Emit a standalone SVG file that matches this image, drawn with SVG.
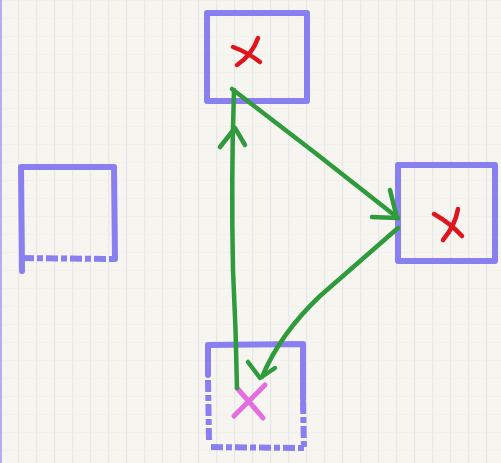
<svg xmlns="http://www.w3.org/2000/svg" width="501" height="463" viewBox="0 0 501 463">
  <defs>
    <pattern id="grid" width="18" height="18" patternUnits="userSpaceOnUse">
      <rect width="18" height="18" fill="#f6f5f0"/>
      <line x1="0.5" y1="0" x2="0.5" y2="18" stroke="#e8e8ea" stroke-width="1.5"/>
      <line x1="0" y1="0.5" x2="18" y2="0.5" stroke="#f0efec" stroke-width="0.8"/>
    </pattern>
  </defs>
  <style>
    .box { fill: none; stroke: #8a7ff0; stroke-width: 6; stroke-linecap: round; stroke-linejoin: round; }
    .dash { fill: none; stroke: #8a7ff0; stroke-width: 6; stroke-linecap: butt; stroke-dasharray: 12 3 6 3; }
    .xred { fill: none; stroke: #e0141c; stroke-width: 4.5; stroke-linecap: round; }
    .xpink { fill: none; stroke: #e46ee0; stroke-width: 5; stroke-linecap: round; }
    .edge { fill: none; stroke: #2f9b3c; stroke-width: 4.5; stroke-linecap: round; stroke-linejoin: round; }
  </style>

  <rect width="501" height="463" fill="url(#grid)"/>
  <line x1="1" y1="0" x2="1" y2="463" stroke="#b3adf2" stroke-width="2"/>

  <g id="node-top">
    <rect class="box" x="207" y="13" width="100" height="88"/>
    <path class="xred" d="M233,47 Q247,52 260,62"/>
    <path class="xred" d="M258,38 Q252,55 237,65"/>
  </g>

  <g id="node-right">
    <rect class="box" x="398" y="165" width="97" height="96"/>
    <path class="xred" d="M434,214 Q450,223 462,236"/>
    <path class="xred" d="M458,209 Q455,226 443,240"/>
  </g>

  <g id="node-left">
    <path class="box" d="M22,271 L21,167 L114,167 L115,259"/>
    <path class="dash" d="M22,258 L115,259"/>
  </g>

  <g id="node-bottom">
    <path class="box" d="M208,375 L208,345 L303,344 L303,400"/>
    <path class="dash" d="M208,380 L209,440 M303,402 L304,448 M211,447 L305,448"/>
    <path class="xpink" d="M234,416 Q250,400 265,385"/>
    <path class="xpink" d="M237,388 Q252,405 263,418"/>
  </g>

  <g id="connectors">
    <path class="edge" d="M232,89 Q315,152 398,218"/>
    <path class="edge" d="M390,190 L397,218 L372,217"/>
    <path class="edge" d="M398,228 L320,296 Q280,334 262,377"/>
    <path class="edge" d="M248,362 L260,378 L275,368"/>
    <path class="edge" d="M237,388 Q236,330 233,270 Q231,180 234,90"/>
    <path class="edge" d="M220,147 L235,128 L245,145"/>
  </g>
</svg>
